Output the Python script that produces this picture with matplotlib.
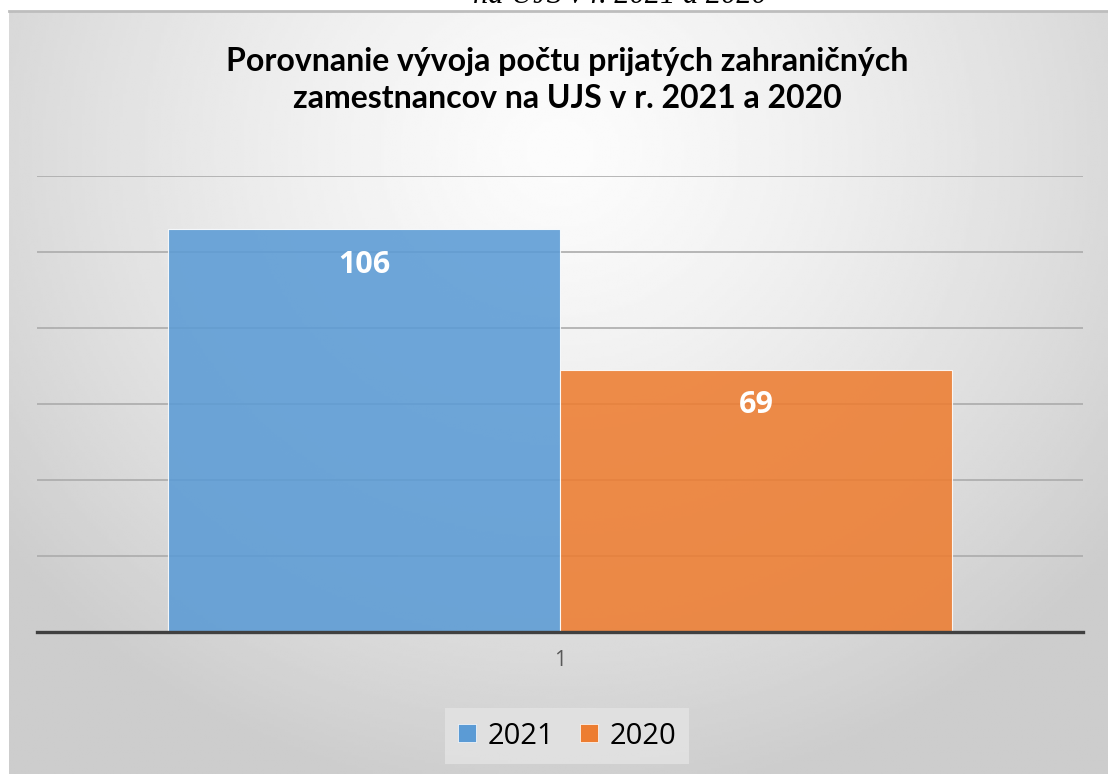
import numpy as np
import matplotlib
matplotlib.use('Agg')
import matplotlib.pyplot as plt
from matplotlib.patches import Patch

categories = ['1']
years = ['2021', '2020']
values = [106, 69]
colors = ['#5B9BD5', '#ED7D31']

title = 'Porovnanie vývoja počtu prijatých zahraničných\nzamestnancov na UJS v r. 2021 a 2020'
caption = 'na UJS v r. 2021 a 2020'

W, H = 1108, 774
fig = plt.figure(figsize=(W / 100, H / 100), dpi=100, facecolor='white')

# chart area background (radial gray gradient)
x0, top = 9, 11
bg = fig.add_axes([x0 / W, 0, 1 - x0 / W, 1 - top / H], zorder=0)
xx, yy = np.meshgrid(np.linspace(x0, W, 400), np.linspace(top, H, 300))
r = np.sqrt(((xx - 560) / 700) ** 2 + ((yy - 150) / 650) ** 2)
shade = (252 - 47 * np.clip(r, 0, 1) ** 1.3) / 255
bg.imshow(shade, cmap='gray', vmin=0, vmax=1, aspect='auto',
          extent=[0, 1, 0, 1], interpolation='bilinear')
bg.plot([0, 1], [1, 1], color='#bdbdbd', lw=2, transform=bg.transAxes, clip_on=False)
bg.axis('off')

# partly cut caption above the chart (cut off in the source as well)
fig.text(620 / W, 1 - 3 / H, caption, ha='center', va='baseline',
         fontsize=22, style='italic', family='Liberation Serif', color='black')

ax = fig.add_axes([37 / W, 1 - 632 / H, (1083 - 37) / W, (632 - 176) / H], zorder=1)
ax.patch.set_alpha(0)

width = 0.75
n = len(years)
for i, (yr, v, c) in enumerate(zip(years, values, colors)):
    xpos = (i - (n - 1) / 2) * width
    ax.bar(xpos, v, width=width, color=c, alpha=0.88, edgecolor='white', linewidth=0.8, zorder=2)
    ax.annotate(str(v), (xpos, v), xytext=(0, -25.5), textcoords='offset points',
                ha='center', va='center', color='white', fontsize=22,
                fontweight='bold', family='Open Sans', zorder=3)

ax.set_xlim(-1, 1)
ax.set_ylim(0, 120)
ax.set_yticks(np.arange(0, 121, 20))
ax.set_yticklabels([])
ax.tick_params(axis='y', length=0)
ax.yaxis.grid(True, color='#ababab', linewidth=1.2, zorder=0)
ax.set_axisbelow(True)
ax.set_xticks([0])
ax.set_xticklabels(categories, fontsize=15, color='#595959', family='Open Sans')
ax.tick_params(axis='x', length=0, pad=13)
for s in ['top', 'left', 'right']:
    ax.spines[s].set_visible(False)
ax.spines['bottom'].set_color('#404040')
ax.spines['bottom'].set_linewidth(2.4)
ax.spines['bottom'].set_zorder(4)

fig.text(567 / W, 1 - 80 / H, title, ha='center', va='center', fontsize=23,
         fontweight='bold', family='Lato', color='black', linespacing=1.3)

handles = [Patch(facecolor=c, edgecolor='white', linewidth=0.5) for c in colors]
leg = fig.legend(handles, years, loc='center', bbox_to_anchor=(567 / W, 1 - 736 / H),
                 ncol=2, frameon=True, prop={'family': 'Open Sans', 'size': 21},
                 handlelength=0.6, handleheight=0.6, handletextpad=0.4,
                 columnspacing=0.9, borderpad=0.45, fancybox=False)
leg.get_frame().set_facecolor('#e4e4e4')
leg.get_frame().set_edgecolor('none')
leg.get_frame().set_alpha(0.8)

fig.savefig('out.png', dpi=100, facecolor='white')
